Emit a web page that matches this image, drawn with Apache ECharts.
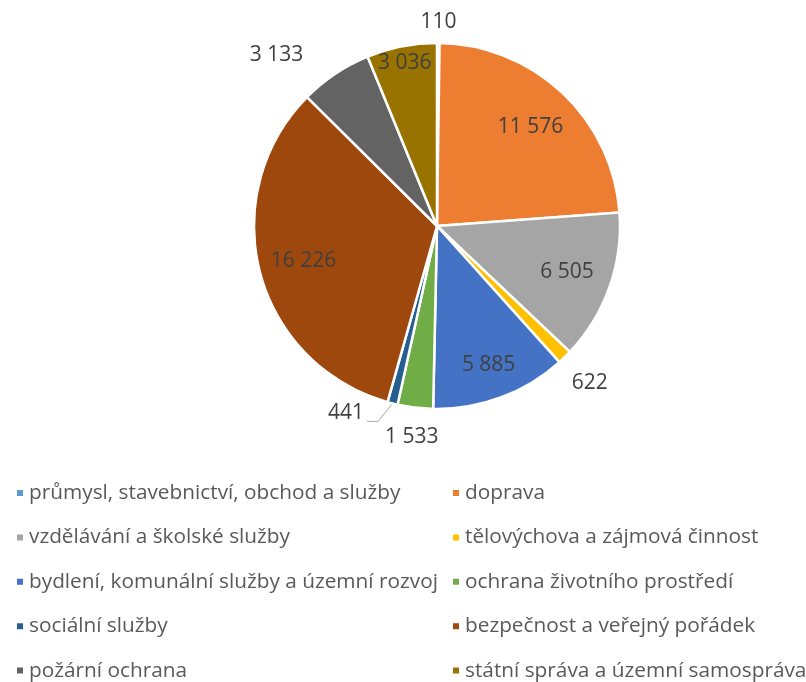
<!DOCTYPE html>
<html><head><meta charset="utf-8">
<script src="https://cdn.jsdelivr.net/npm/echarts@6/dist/echarts.min.js"></script>
<style>html,body{margin:0;padding:0;background:#fff}#c{width:806px;height:682px}</style>
</head><body><div id="c"></div>
<script>
const categories = [
  'průmysl, stavebnictví, obchod a služby',
  'doprava',
  'vzdělávání a školské služby',
  'tělovýchova a zájmová činnost',
  'bydlení, komunální služby a územní rozvoj',
  'ochrana životního prostředí',
  'sociální služby',
  'bezpečnost a veřejný pořádek',
  'požární ochrana',
  'státní správa a územní samospráva'
];
const values = [110, 11576, 6505, 622, 5885, 1533, 441, 16226, 3133, 3036];
const colors = ['#5B9BD5','#ED7D31','#A5A5A5','#FFC000','#4472C4','#70AD47','#255E91','#9E480E','#636363','#997300'];

// layout / style settings
const CENTER = [437, 226], R = 183;
const labelDist = [1.115, 0.745, 0.754, 1.197, 0.81, 1.16, 1.14, 0.754, 1.28, 0.91];
const labelShift = [0, 0, 0, 0, 0, 0, 0, 0, -9.5, 0];
const FONT = '"Open Sans", Lato, sans-serif';
const FS_LABEL = 21;
const FS_LEGEND = 20.8;

const total = values.reduce((a, b) => a + b, 0);
function midAngle(i) {
  let s = 0;
  for (let j = 0; j < i; j++) s += values[j];
  return (s + values[i] / 2) / total * 360;
}
function polar(dist, deg) {
  const a = deg * Math.PI / 180;
  return [CENTER[0] + dist * Math.sin(a), CENTER[1] - dist * Math.cos(a)];
}
function fmt(v) { return String(v).replace(/\B(?=(\d{3})+(?!\d))/g, ' '); }

const data = categories.map((n, i) => ({
  name: n, value: values[i],
  itemStyle: { color: colors[i] },
  labelLine: { show: i === 6, lineStyle: { color: '#A6A6A6', width: 1 } }
}));

const legendBase = {
  orient: 'vertical', top: 482, padding: 0,
  itemWidth: 8, itemHeight: 8, itemGap: 22.4, icon: 'rect',
  textStyle: { fontFamily: FONT, fontSize: FS_LEGEND, color: '#595959', lineHeight: 22 }
};

const chart = echarts.init(document.getElementById('c'), null, { renderer: 'canvas' });
chart.setOption({
  animation: false,
  backgroundColor: '#fff',
  legend: [
    Object.assign({}, legendBase, { left: 15, data: categories.filter((_, i) => i % 2 === 0) }),
    Object.assign({}, legendBase, { left: 451, data: categories.filter((_, i) => i % 2 === 1) })
  ],
  series: [{
    type: 'pie',
    center: CENTER,
    radius: [0, R],
    startAngle: 90,
    clockwise: true,
    avoidLabelOverlap: false,
    itemStyle: { borderColor: '#fff', borderWidth: 2.5 },
    label: {
      show: true, position: 'outside',
      formatter: p => fmt(p.value),
      fontFamily: FONT, fontSize: FS_LABEL, color: '#404040'
    },
    labelLine: { show: false },
    emphasis: { disabled: true },
    data: data,
    labelLayout: function (params) {
      const i = params.dataIndex;
      const m = midAngle(i);
      if (i === 6) {
        const p0 = polar(R, m);
        const p1 = polar(R * 1.115, m + 2.7);
        const p2 = [p1[0] - 11, p1[1]];
        return {
          x: p2[0] - 3, y: p2[1] - 8, align: 'right', verticalAlign: 'middle',
          labelLinePoints: [p0, p1, p2]
        };
      }
      const p = polar(labelDist[i] * R, m + labelShift[i]);
      return { x: p[0], y: p[1], align: 'center', verticalAlign: 'middle' };
    }
  }]
});
</script></body></html>
